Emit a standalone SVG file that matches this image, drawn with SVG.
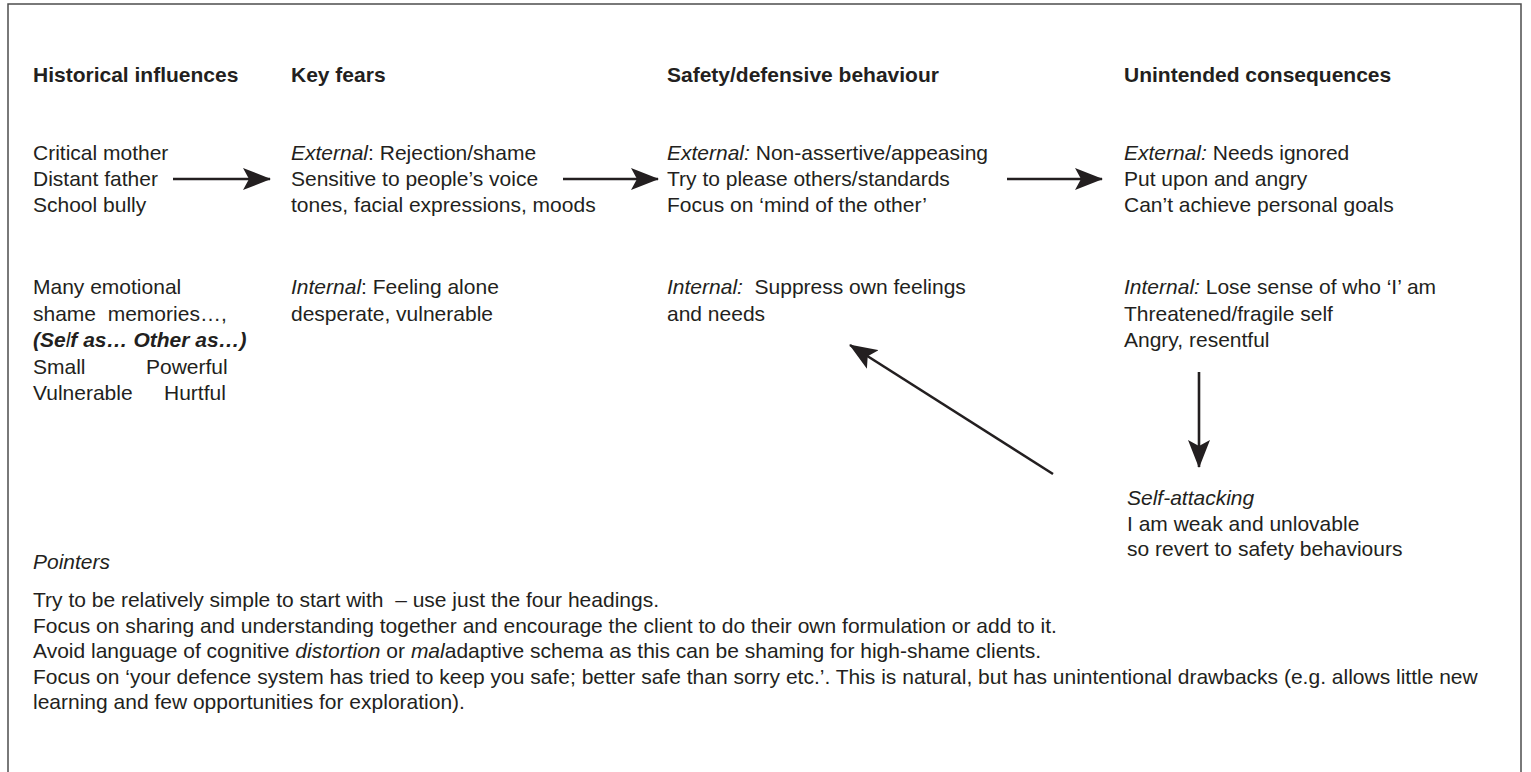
<svg xmlns="http://www.w3.org/2000/svg" width="1531" height="772" viewBox="0 0 1531 772">
  <style>
    text { font-family: "Liberation Sans", Arial, Helvetica, sans-serif; font-size: 21px; fill: #231f20; }
    .head { font-weight: bold; }
    .it { font-style: italic; }
    .bi { font-weight: bold; font-style: italic; }
    .arrow { stroke: #231f20; stroke-width: 2.6; fill: none; marker-end: url(#head); }
    .frame { stroke: #4d4d4d; stroke-width: 1.5; fill: none; }
  </style>
  <defs>
    <marker id="head" markerUnits="userSpaceOnUse" viewBox="0 0 28 22" refX="27" refY="11" markerWidth="28" markerHeight="22" orient="auto">
      <path d="M0,0 L28,11 L0,22 L6,11 Z" fill="#231f20"/>
    </marker>
  </defs>

  <!-- outer frame (open at the bottom) -->
  <path class="frame" d="M8,780 V4 H1521 V780"/>

  <!-- column headings -->
  <g id="headings">
    <text class="head" x="33" y="82">Historical influences</text>
    <text class="head" x="291" y="82">Key fears</text>
    <text class="head" x="667" y="82">Safety/defensive behaviour</text>
    <text class="head" x="1124" y="82">Unintended consequences</text>
  </g>

  <!-- historical influences -->
  <g id="historical">
    <text x="33" y="160">Critical mother</text>
    <text x="33" y="186">Distant father</text>
    <text x="33" y="212">School bully</text>
  </g>
  <g id="memories">
    <text x="33" y="294">Many emotional</text>
    <text x="33" y="320.5" xml:space="preserve">shame  memories…,</text>
    <text x="33" y="347"><tspan class="bi">(Se</tspan><tspan class="it">l</tspan><tspan class="bi">f as… Other as…)</tspan></text>
    <text x="33" y="373.5">Small<tspan x="146">Powerful</tspan></text>
    <text x="33" y="400">Vulnerable<tspan x="164">Hurtful</tspan></text>
  </g>

  <!-- key fears -->
  <g id="fears-external">
    <text x="291" y="160"><tspan class="it">External</tspan>: Rejection/shame</text>
    <text x="291" y="186">Sensitive to people’s voice</text>
    <text x="291" y="212">tones, facial expressions, moods</text>
  </g>
  <g id="fears-internal">
    <text x="291" y="294"><tspan class="it">Internal</tspan>: Feeling alone</text>
    <text x="291" y="320.5">desperate, vulnerable</text>
  </g>

  <!-- safety behaviours -->
  <g id="safety-external">
    <text x="667" y="160"><tspan class="it">External:</tspan> Non-assertive/appeasing</text>
    <text x="667" y="186">Try to please others/standards</text>
    <text x="667" y="212">Focus on ‘mind of the other’</text>
  </g>
  <g id="safety-internal">
    <text x="667" y="294" xml:space="preserve"><tspan class="it">Internal:</tspan>  Suppress own feelings</text>
    <text x="667" y="320.5">and needs</text>
  </g>

  <!-- unintended consequences -->
  <g id="consequences-external">
    <text x="1124" y="160"><tspan class="it">External:</tspan> Needs ignored</text>
    <text x="1124" y="186">Put upon and angry</text>
    <text x="1124" y="212">Can’t achieve personal goals</text>
  </g>
  <g id="consequences-internal">
    <text x="1124" y="294"><tspan class="it">Internal:</tspan> Lose sense of who ‘I’ am</text>
    <text x="1124" y="320.5">Threatened/fragile self</text>
    <text x="1124" y="347">Angry, resentful</text>
  </g>
  <g id="self-attacking">
    <text class="it" x="1127" y="505">Self-attacking</text>
    <text x="1127" y="530.5">I am weak and unlovable</text>
    <text x="1127" y="556">so revert to safety behaviours</text>
  </g>

  <!-- connectors -->
  <g id="connectors">
    <line class="arrow" x1="173" y1="179" x2="270" y2="179"/>
    <line class="arrow" x1="563" y1="179" x2="658" y2="179"/>
    <line class="arrow" x1="1007" y1="179" x2="1102" y2="179"/>
    <line class="arrow" x1="1199" y1="372" x2="1199" y2="467"/>
    <line class="arrow" x1="1053" y1="474" x2="850" y2="345"/>
  </g>

  <!-- pointers -->
  <g id="pointers">
    <text class="it" x="33" y="569">Pointers</text>
    <text x="33" y="607" xml:space="preserve">Try to be relatively simple to start with  – use just the four headings.</text>
    <text x="33" y="632.5">Focus on sharing and understanding together and encourage the client to do their own formulation or add to it.</text>
    <text x="33" y="658">Avoid language of cognitive <tspan class="it">distortion</tspan> or <tspan class="it">mal</tspan>adaptive schema as this can be shaming for high-shame clients.</text>
    <text x="33" y="683.5">Focus on ‘your defence system has tried to keep you safe; better safe than sorry etc.’. This is natural, but has unintentional drawbacks (e.g. allows little new</text>
    <text x="33" y="709">learning and few opportunities for exploration).</text>
  </g>
</svg>
